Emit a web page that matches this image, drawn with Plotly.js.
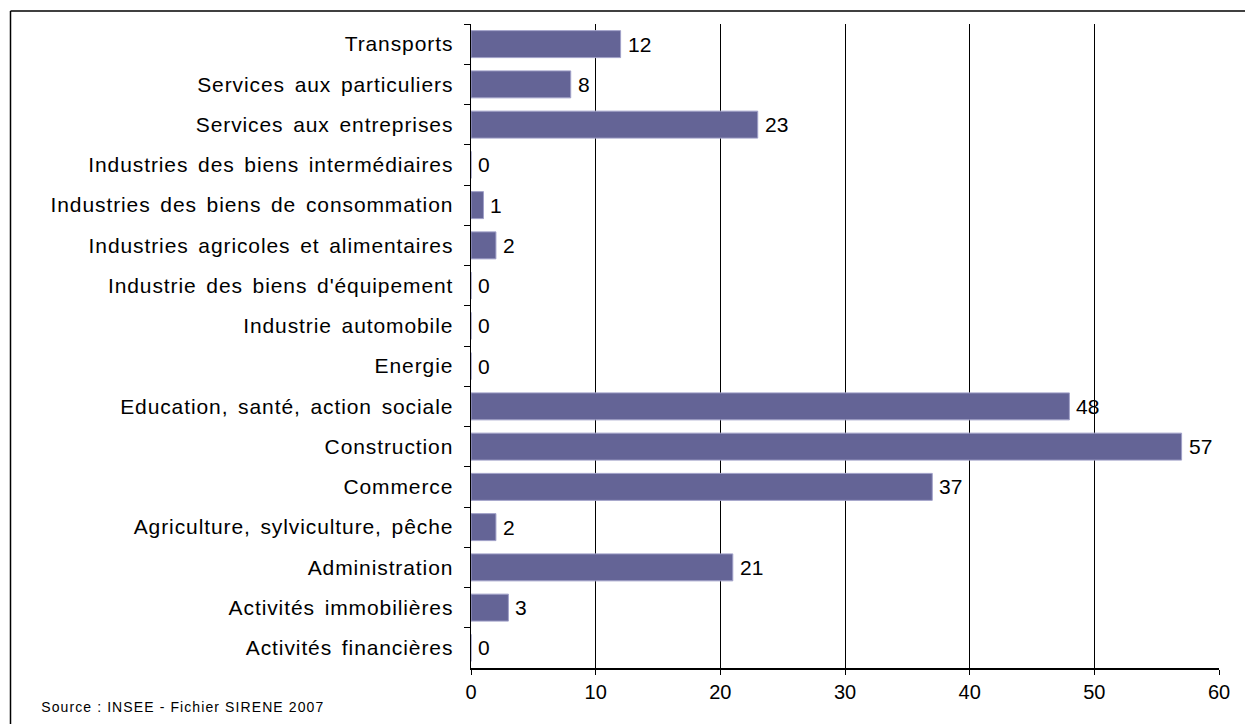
<!DOCTYPE html>
<html>
<head>
<meta charset="utf-8">
<script src="https://cdn.plot.ly/plotly-3.0.1.min.js"></script>
<style>
html,body{margin:0;padding:0;background:#fff;}
#chart{width:1245px;height:724px;}
#chart .ytick text{letter-spacing:0.9px;word-spacing:3px;}
#chart g.annotation[data-index="0"] text{letter-spacing:1.1px;}
</style>
</head>
<body>
<div id="chart"></div>
<script>
const categories = [
  "Transports",
  "Services aux particuliers",
  "Services aux entreprises",
  "Industries des biens intermédiaires",
  "Industries des biens de consommation",
  "Industries agricoles et alimentaires",
  "Industrie des biens d'équipement",
  "Industrie automobile",
  "Energie",
  "Education, santé, action sociale",
  "Construction",
  "Commerce",
  "Agriculture, sylviculture, pêche",
  "Administration",
  "Activités immobilières",
  "Activités financières"
];
const values = [12, 8, 23, 0, 1, 2, 0, 0, 0, 48, 57, 37, 2, 21, 3, 0];
const xTickValues = [0, 10, 20, 30, 40, 50, 60];
const sourceText = "Source : INSEE - Fichier SIRENE 2007";

const font = "Liberation Sans, Arial, sans-serif";
const L = 471, R = 1219, T = 24, B = 668;
const px2x = p => (p - L) / (R - L);
const py2y = p => (B - p) / (B - T);

const trace = {
  type: "bar",
  orientation: "h",
  y: categories,
  x: values,
  marker: {color: "#646496", line: {color: "#a0a0c8", width: 1}},
  hoverinfo: "none"
};

const valueLabels = values.map((v, i) => ({
  x: v, y: categories[i], xref: "x", yref: "y",
  text: String(v), showarrow: false,
  xanchor: "left", yanchor: "middle", xshift: 5,
  font: {family: font, size: 21, color: "#000"}
}));

const layout = {
  width: 1245, height: 724,
  margin: {l: L, r: 1245 - R, t: T, b: 724 - B},
  paper_bgcolor: "#fff", plot_bgcolor: "#fff",
  showlegend: false,
  bargap: 0.33,
  font: {family: font, color: "#000"},
  xaxis: {
    range: [0, 60], tickvals: xTickValues, ticktext: xTickValues.map(String),
    showgrid: true, gridcolor: "#000", gridwidth: 1,
    showline: true, linecolor: "#000", linewidth: 1.5,
    ticks: "outside", ticklen: 5, tickwidth: 1, tickcolor: "#000",
    tickfont: {family: font, size: 20, color: "#000"},
    zeroline: false, fixedrange: true
  },
  yaxis: {
    autorange: "reversed", type: "category",
    showline: true, linecolor: "#000", linewidth: 1.5,
    ticks: "outside", ticklen: 6, tickwidth: 1, tickcolor: "#000", tickson: "boundaries",
    ticklabelstandoff: 12,
    tickfont: {family: font, size: 21, color: "#000"},
    showgrid: false, zeroline: false, fixedrange: true
  },
  shapes: [
    {type: "line", xref: "paper", yref: "paper", x0: px2x(10.5), x1: px2x(1250), y0: py2y(11), y1: py2y(11), line: {color: "#000", width: 1.5}},
    {type: "line", xref: "paper", yref: "paper", x0: px2x(10.5), x1: px2x(10.5), y0: py2y(11), y1: py2y(730), line: {color: "#000", width: 1.5}}
  ],
  annotations: [
    {text: sourceText, xref: "paper", yref: "paper", x: px2x(40), y: py2y(707), xanchor: "left", yanchor: "middle", xshift: 19, showarrow: false, font: {family: font, size: 14, color: "#000"}}
  ].concat(valueLabels)
};

Plotly.newPlot("chart", [trace], layout, {displayModeBar: false, staticPlot: true});
</script>
</body>
</html>
